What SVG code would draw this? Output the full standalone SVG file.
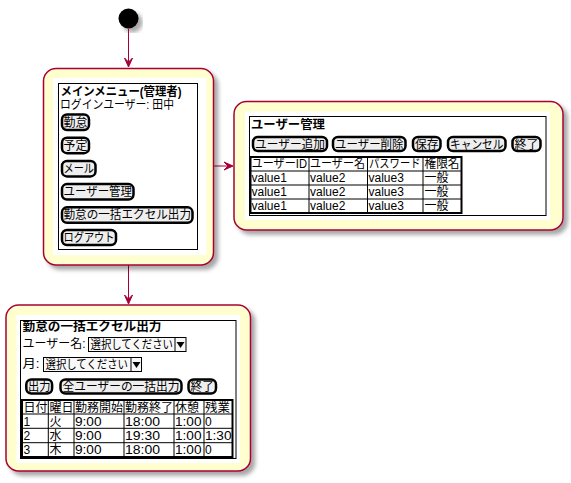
<svg xmlns="http://www.w3.org/2000/svg" width="571" height="483" viewBox="0 0 571 483">
<defs>
<filter id="sh" x="-10%" y="-10%" width="130%" height="130%">
<feGaussianBlur in="SourceAlpha" stdDeviation="2"/>
<feOffset dx="4" dy="4" result="b"/>
<feFlood flood-color="#000" flood-opacity="0.35"/>
<feComposite in2="b" operator="in"/>
<feMerge><feMergeNode/><feMergeNode in="SourceGraphic"/></feMerge>
</filter>
<style>
text{font-family:"Liberation Sans","Noto Sans CJK JP",sans-serif;font-size:12px;fill:#000}
.b{font-weight:bold}
.st{fill:#FEFECE;stroke:#A80036;stroke-width:1.5;filter:url(#sh)}
.in{fill:#fff;stroke:none}
.fr{fill:none;stroke:#000;stroke-width:1}
.btn{fill:#EEEEEE;stroke:#000;stroke-width:2.5}
.tb{fill:none;stroke:#000;stroke-width:2}
.gl{stroke:#000;stroke-width:1}
.dd{fill:#F8F8F8;stroke:#000;stroke-width:1}
.ln{stroke:#A80036;stroke-width:1;fill:none}
.ah{fill:#A80036;stroke:#A80036;stroke-width:1}
</style>
</defs>
<rect width="571" height="483" fill="#fff"/>

<g id="start">
<circle cx="128.5" cy="18.5" r="10" fill="#000" filter="url(#sh)"/>
</g>

<g id="connectors">
<line class="ln" x1="128.5" y1="28.5" x2="128.5" y2="66"/>
<polygon class="ah" points="128.5,67 124.5,58 128.5,62 132.5,58"/>
<line class="ln" x1="213.5" y1="166" x2="232" y2="166"/>
<polygon class="ah" points="233,166 224,162 228,166 224,170"/>
<line class="ln" x1="128.5" y1="265" x2="128.5" y2="303"/>
<polygon class="ah" points="128.5,304 124.5,295 128.5,299 132.5,295"/>
</g>

<g id="main-menu">
<rect class="st" x="43.5" y="68.5" width="170" height="196.5" rx="12.5"/>
<rect class="in" x="53" y="78" width="153.5" height="177"/>
<rect class="fr" x="58.5" y="83.5" width="139" height="166"/>
<text class="b" x="60.5" y="95.5" textLength="121" lengthAdjust="spacingAndGlyphs">メインメニュー(管理者)</text>
<text x="60" y="108.5" textLength="114" lengthAdjust="spacingAndGlyphs">ログインユーザー: 田中</text>
<rect class="btn" x="62" y="114.5" width="27" height="15.5" rx="5"/>
<text x="63.5" y="126.5" textLength="24" lengthAdjust="spacingAndGlyphs">勤怠</text>
<rect class="btn" x="62" y="137.7" width="27" height="15.5" rx="5"/>
<text x="63.5" y="149.7" textLength="24" lengthAdjust="spacingAndGlyphs">予定</text>
<rect class="btn" x="62" y="160.9" width="33.5" height="15.5" rx="5"/>
<text x="63.5" y="172.9" textLength="30.5" lengthAdjust="spacingAndGlyphs">メール</text>
<rect class="btn" x="62" y="184.1" width="71.5" height="15.5" rx="5"/>
<text x="63.5" y="196.1" textLength="68.5" lengthAdjust="spacingAndGlyphs">ユーザー管理</text>
<rect class="btn" x="62" y="207.3" width="130.5" height="15.5" rx="5"/>
<text x="63.5" y="219.3" textLength="127.5" lengthAdjust="spacingAndGlyphs">勤怠の一括エクセル出力</text>
<rect class="btn" x="62" y="230" width="54" height="15" rx="5"/>
<text x="63.5" y="242" textLength="51" lengthAdjust="spacingAndGlyphs">ログアウト</text>
</g>

<g id="user-management">
<rect class="st" x="234" y="101.5" width="329" height="128.5" rx="12.5"/>
<rect class="in" x="245" y="111.5" width="305" height="108.5"/>
<rect class="fr" x="249.5" y="116.5" width="296.5" height="99"/>
<text class="b" x="251" y="128.5" textLength="74" lengthAdjust="spacingAndGlyphs">ユーザー管理</text>
<rect class="btn" x="253" y="137" width="74" height="14" rx="5"/>
<text x="255" y="148.5" textLength="70" lengthAdjust="spacingAndGlyphs">ユーザー追加</text>
<rect class="btn" x="333" y="137" width="72.5" height="14" rx="5"/>
<text x="335" y="148.5" textLength="68.5" lengthAdjust="spacingAndGlyphs">ユーザー削除</text>
<rect class="btn" x="413" y="137" width="27.5" height="14" rx="5"/>
<text x="415" y="148.5" textLength="23.5" lengthAdjust="spacingAndGlyphs">保存</text>
<rect class="btn" x="448" y="137" width="57.5" height="14" rx="5"/>
<text x="450" y="148.5" textLength="53.5" lengthAdjust="spacingAndGlyphs">キャンセル</text>
<rect class="btn" x="512.5" y="137" width="28" height="14" rx="5"/>
<text x="514.5" y="148.5" textLength="24" lengthAdjust="spacingAndGlyphs">終了</text>
<rect class="tb" x="250.5" y="157" width="211" height="56"/>
<line class="gl" x1="250.5" y1="171" x2="461.5" y2="171"/>
<line class="gl" x1="250.5" y1="185" x2="461.5" y2="185"/>
<line class="gl" x1="250.5" y1="199" x2="461.5" y2="199"/>
<line class="gl" x1="309" y1="157" x2="309" y2="213"/>
<line class="gl" x1="367.5" y1="157" x2="367.5" y2="213"/>
<line class="gl" x1="423" y1="157" x2="423" y2="213"/>
<text x="251.5" y="168" textLength="55.5" lengthAdjust="spacingAndGlyphs">ユーザーID</text>
<text x="310" y="168" textLength="55" lengthAdjust="spacingAndGlyphs">ユーザー名</text>
<text x="369" y="168" textLength="51.5" lengthAdjust="spacingAndGlyphs">パスワード</text>
<text x="424.5" y="168" textLength="35" lengthAdjust="spacingAndGlyphs">権限名</text>
<text x="251.5" y="182">value1</text><text x="310" y="182">value2</text><text x="368.5" y="182">value3</text><text x="424.5" y="182" textLength="24" lengthAdjust="spacingAndGlyphs">一般</text>
<text x="251.5" y="196">value1</text><text x="310" y="196">value2</text><text x="368.5" y="196">value3</text><text x="424.5" y="196" textLength="24" lengthAdjust="spacingAndGlyphs">一般</text>
<text x="251.5" y="210">value1</text><text x="310" y="210">value2</text><text x="368.5" y="210">value3</text><text x="424.5" y="210" textLength="24" lengthAdjust="spacingAndGlyphs">一般</text>
</g>

<g id="bulk-export">
<rect class="st" x="6" y="305" width="244.5" height="166" rx="12.5"/>
<rect class="in" x="16.5" y="315" width="223.5" height="148"/>
<rect class="fr" x="20.5" y="320.5" width="215.5" height="138"/>
<text class="b" x="22.5" y="331" textLength="139" lengthAdjust="spacingAndGlyphs">勤怠の一括エクセル出力</text>
<text x="22.5" y="348" textLength="63" lengthAdjust="spacingAndGlyphs">ユーザー名:</text>
<rect class="dd" x="88.5" y="337.5" width="97.5" height="14"/>
<text x="90.5" y="348.5" textLength="82.5" lengthAdjust="spacingAndGlyphs">選択してください</text>
<line class="gl" x1="175" y1="337.5" x2="175" y2="351.5"/>
<polygon points="176.5,342 184.5,342 180.5,348" fill="#000"/>
<text x="22.5" y="368" textLength="17" lengthAdjust="spacingAndGlyphs">月:</text>
<rect class="dd" x="43.5" y="357.5" width="98" height="14"/>
<text x="45.5" y="368.5" textLength="82.5" lengthAdjust="spacingAndGlyphs">選択してください</text>
<line class="gl" x1="131" y1="357.5" x2="131" y2="371.5"/>
<polygon points="132.5,362 140.5,362 136.5,368" fill="#000"/>
<rect class="btn" x="26.3" y="379.5" width="25.8" height="14" rx="5"/>
<text x="28" y="391" textLength="22.5" lengthAdjust="spacingAndGlyphs">出力</text>
<rect class="btn" x="60.5" y="379.5" width="121" height="14" rx="5"/>
<text x="62.5" y="391" textLength="117" lengthAdjust="spacingAndGlyphs">全ユーザーの一括出力</text>
<rect class="btn" x="188.5" y="379.5" width="27.5" height="14" rx="5"/>
<text x="190.5" y="391" textLength="23.5" lengthAdjust="spacingAndGlyphs">終了</text>
<rect class="tb" x="22" y="400" width="210.5" height="57"/>
<line class="gl" x1="22" y1="414" x2="232.5" y2="414"/>
<line class="gl" x1="22" y1="428.3" x2="232.5" y2="428.3"/>
<line class="gl" x1="22" y1="442.7" x2="232.5" y2="442.7"/>
<line class="gl" x1="48.3" y1="400" x2="48.3" y2="457"/>
<line class="gl" x1="74" y1="400" x2="74" y2="457"/>
<line class="gl" x1="124" y1="400" x2="124" y2="457"/>
<line class="gl" x1="174" y1="400" x2="174" y2="457"/>
<line class="gl" x1="204" y1="400" x2="204" y2="457"/>
<text x="23.5" y="411.5" textLength="24" lengthAdjust="spacingAndGlyphs">日付</text><text x="49.5" y="411.5" textLength="24" lengthAdjust="spacingAndGlyphs">曜日</text><text x="75" y="411.5" textLength="48" lengthAdjust="spacingAndGlyphs">勤務開始</text><text x="125" y="411.5" textLength="48" lengthAdjust="spacingAndGlyphs">勤務終了</text><text x="175" y="411.5" textLength="24" lengthAdjust="spacingAndGlyphs">休憩</text><text x="205" y="411.5" textLength="25" lengthAdjust="spacingAndGlyphs">残業</text>
<text x="23.5" y="425.5">1</text><text x="49.5" y="425.5">火</text><text x="75" y="425.5" textLength="26.5" lengthAdjust="spacingAndGlyphs">9:00</text><text x="125" y="425.5" textLength="35" lengthAdjust="spacingAndGlyphs">18:00</text><text x="175" y="425.5" textLength="26.5" lengthAdjust="spacingAndGlyphs">1:00</text><text x="205" y="425.5">0</text>
<text x="23.5" y="440">2</text><text x="49.5" y="440">水</text><text x="75" y="440" textLength="26.5" lengthAdjust="spacingAndGlyphs">9:00</text><text x="125" y="440" textLength="35" lengthAdjust="spacingAndGlyphs">19:30</text><text x="175" y="440" textLength="26.5" lengthAdjust="spacingAndGlyphs">1:00</text><text x="205" y="440" textLength="26.5" lengthAdjust="spacingAndGlyphs">1:30</text>
<text x="23.5" y="454.3">3</text><text x="49.5" y="454.3">木</text><text x="75" y="454.3" textLength="26.5" lengthAdjust="spacingAndGlyphs">9:00</text><text x="125" y="454.3" textLength="35" lengthAdjust="spacingAndGlyphs">18:00</text><text x="175" y="454.3" textLength="26.5" lengthAdjust="spacingAndGlyphs">1:00</text><text x="205" y="454.3">0</text>
</g>
</svg>
